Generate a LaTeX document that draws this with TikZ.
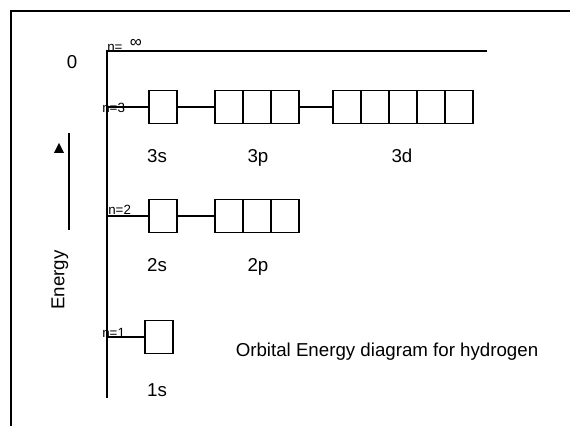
\documentclass[tikz,border=0pt]{standalone}
\usepackage{fontspec}
\setmainfont{Liberation Sans}
\usetikzlibrary{positioning}

\begin{document}
\begin{tikzpicture}[
    orb/.style={draw,line width=1.3pt,minimum width=0.7cm,
                minimum height=0.825cm,inner sep=0pt},
    lvl/.style={line width=1.3pt},
    lbl/.style={font=\fontsize{13.3}{15}\selectfont,inner sep=0pt},
    sub/.style={lbl,anchor=base},
    nlbl/.style={font=\fontsize{9.5}{10}\selectfont,inner sep=0pt}
  ]
  \useasboundingbox (0,0) rectangle (14.25,10.65);

  %% ── Frame ─────────────────────────────────────────────────────────────────
  \draw[lvl] (0.275,0) |- (14.25,10.375);

  %% ── Energy axis and n = infinity ──────────────────────────────────────────
  \coordinate (axbot) at (2.675,0.7);
  \coordinate (axtop) at (2.675,9.375);
  \coordinate (inf)   at (12.175,9.375);
  \draw[lvl] (axbot) -- (axtop) -- (inf);
  \node[nlbl,anchor=west] (ninf) at (2.675,9.45) {n=};
  \node[lbl,font=\fontsize{12}{13}\selectfont] (infsym) at (3.4,9.56) {∞};
  \node[lbl] (zero) at (1.8,9.1) {0};

  %% ── n=3 row ───────────────────────────────────────────────────────────────
  \coordinate (n3) at (2.675,7.975);
  \node[nlbl,anchor=west] (n3lab) at (2.55,7.96) {n=3};
  \node[orb] (s3) at (4.075,7.975) {};
  \foreach \i/\x in {1/5.725,2/6.425,3/7.125}
    \node[orb] (p3\i) at (\x,7.975) {};
  \foreach \i/\x in {1/8.675,2/9.375,3/10.075,4/10.775,5/11.475}
    \node[orb] (d3\i) at (\x,7.975) {};
  \draw[lvl] (n3) -- (s3.west);
  \draw[lvl] (s3.east) -- (p31.west);
  \draw[lvl] (p33.east) -- (d31.west);
  \node[sub] (lab3s) at (3.925,6.58) {3s};
  \node[sub] (lab3p) at (6.45,6.58)  {3p};
  \node[sub] (lab3d) at (10.05,6.58) {3d};

  %% ── n=2 row ───────────────────────────────────────────────────────────────
  \coordinate (n2) at (2.675,5.25);
  \node[nlbl,anchor=west] (n2lab) at (2.7,5.4) {n=2};
  \node[orb] (s2) at (4.075,5.25) {};
  \foreach \i/\x in {1/5.725,2/6.425,3/7.125}
    \node[orb] (p2\i) at (\x,5.25) {};
  \draw[lvl] (n2) -- (s2.west);
  \draw[lvl] (s2.east) -- (p21.west);
  \node[sub] (lab2s) at (3.925,3.855) {2s};
  \node[sub] (lab2p) at (6.45,3.855)  {2p};

  %% ── n=1 row ───────────────────────────────────────────────────────────────
  \coordinate (n1) at (2.675,2.225);
  \node[nlbl,anchor=west] (n1lab) at (2.55,2.325) {n=1};
  \node[orb] (s1) at (3.975,2.225) {};
  \draw[lvl] (n1) -- (s1.west);
  \node[sub] (lab1s) at (3.925,0.73) {1s};

  %% ── Energy arrow ──────────────────────────────────────────────────────────
  \coordinate (eup) at (1.725,7.325);
  \coordinate (edn) at (1.725,4.9);
  \draw[lvl] (edn) -- (eup);
  \fill (1.35,6.825) -- (1.6,6.825) -- (1.475,7.075) -- cycle;
  \node[lbl,rotate=90] (energy) at (1.5,3.65) {Energy};

  %% ── Title ─────────────────────────────────────────────────────────────────
  \node[lbl] (title) at (9.675,1.85) {Orbital Energy diagram for hydrogen};

\end{tikzpicture}
\end{document}
